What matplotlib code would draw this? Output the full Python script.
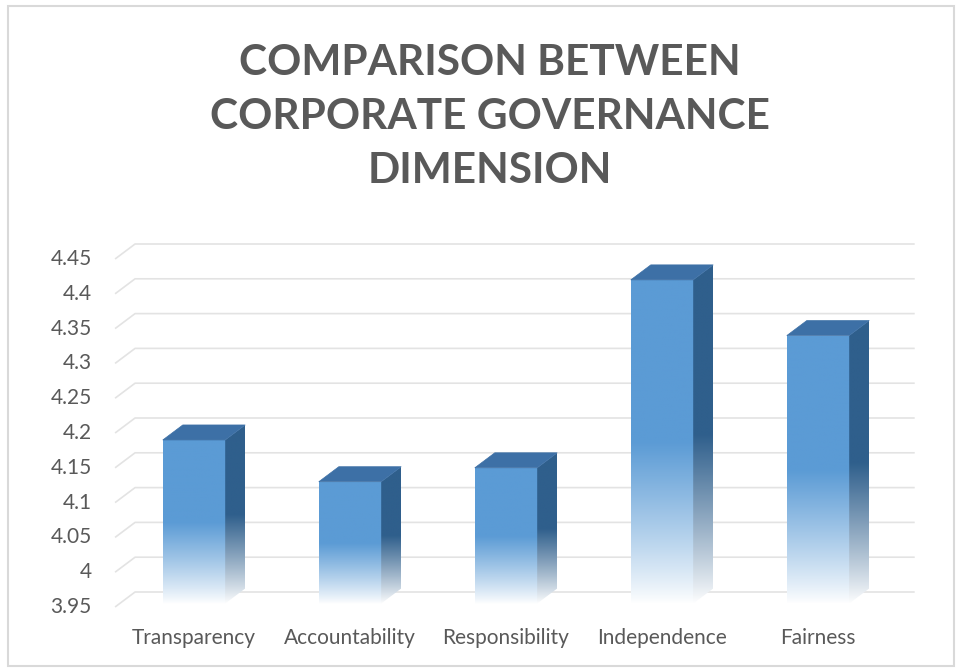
import numpy as np
import matplotlib
matplotlib.use("Agg")
import matplotlib.pyplot as plt
from matplotlib.patches import Polygon, Rectangle
from matplotlib.colors import to_rgb

# data
categories = ['Transparency', 'Accountability', 'Responsibility', 'Independence', 'Fairness']
values = [4.19, 4.13, 4.15, 4.42, 4.34]
yticks = [3.95, 4.0, 4.05, 4.1, 4.15, 4.2, 4.25, 4.3, 4.35, 4.4, 4.45]
ytick_labels = ['3.95', '4', '4.05', '4.1', '4.15', '4.2', '4.25', '4.3', '4.35', '4.4', '4.45']
title = 'COMPARISON BETWEEN\nCORPORATE GOVERNANCE\nDIMENSION'

front_col = '#5B9BD5'
side_col = '#2F5F8C'
top_col = '#3D70A6'
text_col = '#595959'
grid_col = '#E3E3E3'

W, H = 958, 670
fig = plt.figure(figsize=(W / 100, H / 100), dpi=100)
fig.patch.set_facecolor('white')

# axes placed in pixel terms, data scale: 3.95 -> y=607px, 4.45 -> y=259px
ax_l, ax_r, ax_t, ax_b = 40, 940, 230, 650
ax = fig.add_axes([ax_l / W, 1 - ax_b / H, (ax_r - ax_l) / W, (ax_b - ax_t) / H])
ppu_y = (607 - 259) / 0.5
ppu_x = 156.0
ax.axis('off')

# depth offset of the 3D look
dx, dy = 20 / ppu_x, 15 / ppu_y
wall_x = -0.506
floor_end = 4.62

for v in yticks:
    ax.plot([wall_x, wall_x + dx, floor_end], [v, v + dy, v + dy],
            color=grid_col, lw=1.2, zorder=1, solid_capstyle='butt')

for v, lab in zip(yticks, ytick_labels):
    ax.text(-0.655, v, lab, ha='right', va='center', fontsize=15,
            color=text_col, family='Lato')


def fade(color, n=256, solid=0.5):
    # solid color at top, fading to white towards the bottom
    c = np.array(to_rgb(color))
    t = np.linspace(0, 1, n)[:, None]  # 0 bottom, 1 top
    w = np.clip(t / (1 - solid), 0, 1) ** 0.9
    rgb = c * w + (1 - w)
    return rgb[:, None, :]


bw = 0.2
base = 3.955
for i, v in enumerate(values):
    # front face
    ax.imshow(fade(front_col), extent=(i - bw, i + bw, base, v), origin='lower',
              aspect='auto', zorder=3, interpolation='bilinear')
    # side face
    side = Polygon([(i + bw, base), (i + bw + dx, base + dy), (i + bw + dx, v + dy), (i + bw, v)],
                   closed=True, facecolor='none', edgecolor='none')
    ax.add_patch(side)
    im = ax.imshow(fade(side_col), extent=(i + bw, i + bw + dx, base, v + dy), origin='lower',
                   aspect='auto', zorder=3, interpolation='bilinear')
    im.set_clip_path(side)
    # top face
    ax.add_patch(Polygon([(i - bw, v), (i - bw + dx, v + dy), (i + bw + dx, v + dy), (i + bw, v)],
                         closed=True, facecolor=top_col, edgecolor=top_col, lw=0.5, zorder=4))
    ax.text(i, 3.905, categories[i], ha='center', va='center', fontsize=15,
            color=text_col, family='Lato')

ax.set_xlim(-(194 - ax_l) / ppu_x, (ax_r - 194) / ppu_x)
ax.set_ylim(3.95 - (ax_b - 607) / ppu_y, 4.45 + (259 - ax_t) / ppu_y)

fig.text(490 / W, 1 - 117 / H, title, ha='center', va='center', fontsize=30.5,
         fontweight='bold', color=text_col, family='Lato', linespacing=1.52)

fig.patches.append(Rectangle((8 / W, 4 / H), 946 / W, 660 / H, transform=fig.transFigure,
                             fill=False, edgecolor='#D9D9D9', lw=1.5))

fig.savefig('out.png', dpi=100)
